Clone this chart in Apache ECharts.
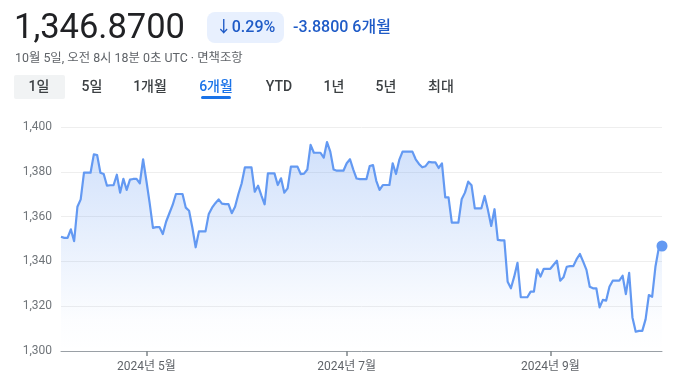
<!DOCTYPE html>
<html><head><meta charset="utf-8">
<script src="https://cdn.jsdelivr.net/npm/echarts@6/dist/echarts.min.js"></script>
<style>html,body{margin:0;padding:0;background:#fff}#c{width:690px;height:384px}</style>
</head><body><div id="c"></div>
<script>
// ---- data ----
const startDate = '2024-04-05';
const values = [
1351.0,1350.5,1350.5,1354.3,1349.0,1364.4,1367.7,1379.6,1379.6,1379.6,
1387.8,1387.5,1379.6,1379.0,1373.8,1374.0,1374.0,1378.7,1370.7,1376.9,
1371.9,1376.5,1376.8,1376.8,1374.8,1385.6,1376.0,1366.0,1355.0,1355.3,
1355.3,1352.2,1357.7,1361.5,1365.2,1370.1,1370.1,1370.1,1364.0,1362.6,
1355.0,1346.3,1353.4,1353.4,1353.4,1361.2,1364.0,1366.0,1367.7,1365.8,
1365.6,1365.6,1361.5,1364.4,1370.0,1374.8,1382.0,1382.0,1382.0,1371.1,
1373.8,1369.5,1365.5,1379.3,1379.3,1379.3,1374.1,1377.1,1370.7,1372.6,
1382.3,1382.3,1382.3,1379.0,1379.2,1381.0,1392.0,1388.5,1388.5,1388.5,
1386.3,1393.3,1389.0,1381.0,1380.5,1380.5,1380.5,1383.8,1385.6,1381.0,
1377.0,1376.7,1376.7,1376.7,1382.6,1383.0,1376.0,1371.9,1374.1,1374.1,
1374.1,1383.8,1379.0,1385.3,1389.0,1389.0,1389.0,1389.0,1385.6,1383.5,
1382.0,1382.5,1384.4,1384.2,1384.2,1381.7,1383.8,1368.6,1368.6,1357.3,
1357.3,1357.3,1367.7,1370.7,1375.6,1374.0,1363.7,1363.7,1363.7,1369.2,
1362.9,1355.8,1363.3,1349.6,1349.4,1349.4,1330.9,1328.0,1333.2,1339.4,
1324.0,1324.0,1324.0,1326.5,1326.5,1336.5,1333.2,1336.7,1336.7,1336.7,
1338.5,1340.3,1331.4,1332.9,1337.6,1337.9,1337.9,1341.0,1343.3,1339.9,
1336.2,1328.7,1328.0,1328.0,1319.5,1322.8,1322.5,1328.7,1331.4,1331.4,
1331.4,1333.6,1325.4,1334.9,1315.0,1308.6,1309.0,1309.0,1314.1,1325.0,
1324.2,1337.6,1345.8,1346.87
];
const tickDates = ['2024-05-01','2024-07-01','2024-09-01'];
const tickLabels = ['2024년 5월','2024년 7월','2024년 9월'];
const yMin = 1300, yMax = 1400, yStep = 20;
const headline = '1,346.8700';
const changePct = '↓0.29%';
const changeAbs = '-3.8800 6개월';
const subtitle = '10월 5일, 오전 8시 18분 0초 UTC · 면책조항';
const tabs = ['1일','5일','1개월','6개월','YTD','1년','5년','최대'];
const activeTab = '6개월';

// ---- build categories (calendar days) ----
const dates = [];
{
  const d0 = new Date(startDate + 'T00:00:00Z');
  for (let i = 0; i < values.length; i++) {
    const d = new Date(d0.getTime() + i * 86400000);
    dates.push(d.toISOString().slice(0, 10));
  }
}
const lastIdx = values.length - 1;

const FF = "Roboto, 'Noto Sans CJK KR', sans-serif";
const BLUE = '#1a73e8';
const LINE = '#6399f2';
const tabX = [39, 92, 150, 216, 279, 334, 386, 441];

const graphics = [
  {type:'text', left:14, top:12, style:{text:headline, font:'400 34.5px ' + FF, fill:'#202124'}},
  {type:'rect', shape:{x:207, y:12, width:77, height:31, r:8}, style:{fill:'#e8f0fe'}},
  {type:'text', x:245.5, y:27.5, style:{text:changePct, font:'500 16px ' + FF, fill:'#1f5bc7', align:'center', verticalAlign:'middle'}},
  {type:'text', x:293, y:27.5, style:{text:changeAbs, font:'500 16px ' + FF, fill:'#1f5bc7', align:'left', verticalAlign:'middle'}},
  {type:'text', x:15, y:59, style:{text:subtitle, font:'400 12.4px ' + FF, fill:'#5f6368', align:'left', verticalAlign:'middle'}},
  {type:'rect', shape:{x:14, y:75, width:51, height:24, r:2}, style:{fill:'#f1f3f4'}},
  {type:'rect', shape:{x:201, y:96, width:30, height:3, r:1.5}, style:{fill:BLUE}}
];
tabs.forEach((t, i) => {
  graphics.push({type:'text', x:tabX[i], y:87, style:{text:t, font:'500 14px ' + FF,
    fill: t === activeTab ? BLUE : '#3c4043', align:'center', verticalAlign:'middle'}});
});

const chart = echarts.init(document.getElementById('c'), null, {renderer:'canvas'});
chart.setOption({
  animation:false,
  backgroundColor:'#fff',
  graphic: graphics,
  grid:{left:61, right:28, top:127, bottom:33},
  xAxis:{
    type:'category', data:dates, boundaryGap:false,
    axisLine:{lineStyle:{color:'#9aa0a6', width:1}},
    axisTick:{show:true, length:5, lineStyle:{color:'#80868b', width:1.5},
      interval:(i, v) => tickDates.indexOf(v) >= 0},
    axisLabel:{interval:(i, v) => tickDates.indexOf(v) >= 0,
      formatter:(v) => { const k = tickDates.indexOf(v); return k >= 0 ? tickLabels[k] : ''; },
      color:'#5f6368', fontSize:12, fontFamily:FF, margin:10},
    splitLine:{show:false}
  },
  yAxis:{
    type:'value', min:yMin, max:yMax, interval:yStep,
    axisLine:{show:false}, axisTick:{show:false},
    axisLabel:{color:'#70757a', fontSize:12, fontFamily:FF, margin:9,
      formatter:(v) => v.toLocaleString('en-US')},
    splitLine:{lineStyle:{color:'#eeeeee', width:1}}
  },
  series:[{
    type:'line', data:values, smooth:false, showSymbol:false,
    lineStyle:{color:LINE, width:2.2, join:'round'},
    areaStyle:{opacity:1, color:new echarts.graphic.LinearGradient(0,0,0,1,[
      {offset:0, color:'rgba(99,153,242,0.30)'},
      {offset:0.85, color:'rgba(99,153,242,0.02)'},
      {offset:1, color:'rgba(99,153,242,0.0)'}])},
    markPoint:{symbol:'circle', symbolSize:11, itemStyle:{color:LINE}, label:{show:false},
      data:[{coord:[lastIdx, values[lastIdx]]}]}
  }]
});
</script></body></html>
